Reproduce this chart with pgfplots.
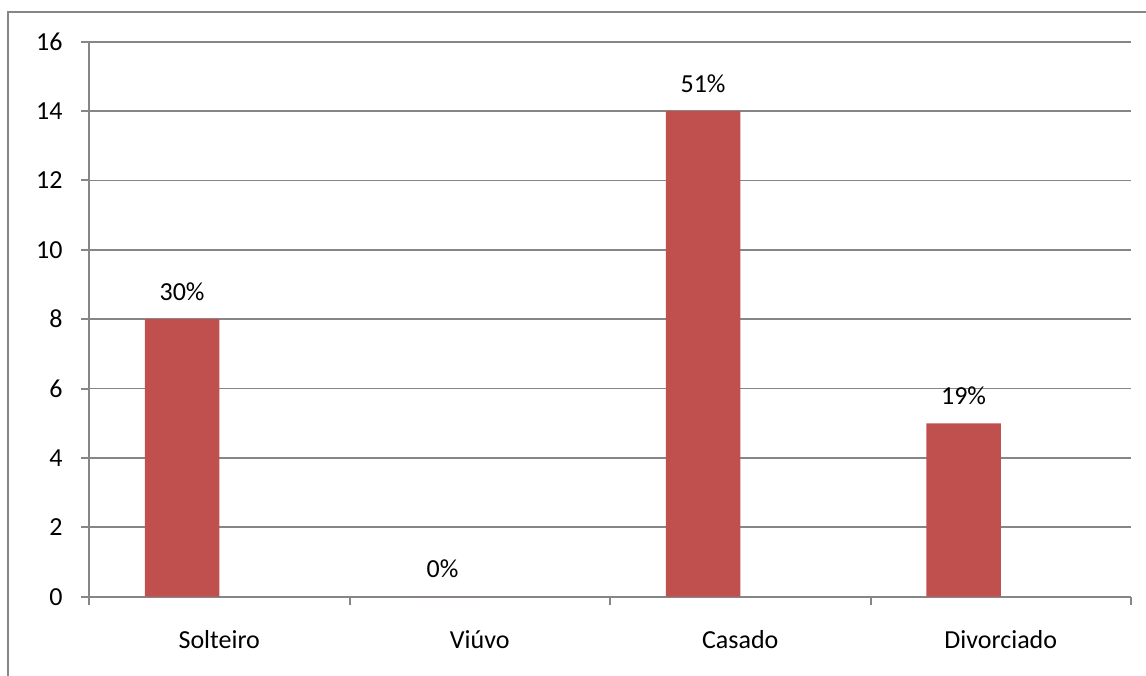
\documentclass[border=0pt]{standalone}
\usepackage{fontspec}
\setmainfont{Carlito}
\usepackage{pgfplots}
\pgfplotsset{compat=1.18}
\definecolor{barred}{HTML}{C0504D}
\definecolor{axisgray}{HTML}{868686}
\newcommand{\chartfont}{\fontsize{13bp}{15bp}\selectfont}

\begin{document}
\begin{tikzpicture}[x=1bp,y=1bp]
\useasboundingbox (0,0) rectangle (573,337.5);
% chart area border (top and left edges)
\draw[axisgray, line width=1bp] (4,-2) -- (4,331.25) -- (575,331.25);
\begin{axis}[
  at={(44.5bp,39.15bp)}, anchor=south west,
  scale only axis, width=521bp, height=277.5bp,
  xmin=0, xmax=4, ymin=0, ymax=16,
  axis x line*=bottom, axis y line*=left,
  axis line style={axisgray, line width=1bp, -},
  ytick={0,2,...,16},
  ymajorgrids, grid style={axisgray, line width=0.9bp},
  xtick={0.5,1.5,2.5,3.5},
  xticklabels={Solteiro,Viúvo,Casado,Divorciado},
  minor xtick={0,1,2,3,4},
  tick align=outside,
  major tick length=4bp, minor tick length=4bp,
  major x tick style={draw=none},
  major y tick style={axisgray, line width=1bp},
  minor x tick style={axisgray, line width=1bp},
  tick label style={font=\chartfont, text=black},
  xticklabel style={anchor=base, inner sep=0pt, yshift=-21.85bp},
  yticklabel style={anchor=east, inner sep=0pt, xshift=-9bp},
  /pgf/number format/assume math mode=true,
]
\addplot[ybar, fill=barred, draw=none,
  bar width=0.285714, bar shift=-0.142857,
  point meta=explicit symbolic,
  nodes near coords={\pgfplotspointmeta},
  every node near coord/.style={anchor=base, inner sep=0pt, xshift=-18.6bp, yshift=9.5bp, font=\chartfont, text=black}]
  coordinates {(0.5,8) [30\%] (1.5,0) [0\%] (2.5,14) [51\%] (3.5,5) [19\%]};
\end{axis}
\end{tikzpicture}
\end{document}
